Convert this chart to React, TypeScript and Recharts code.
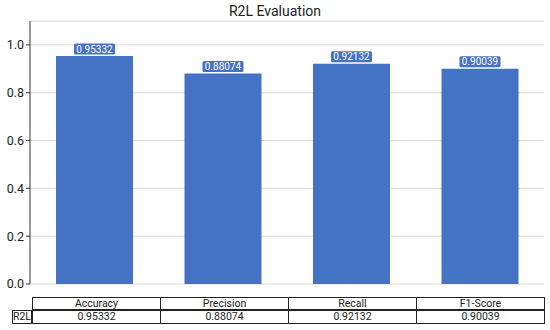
import { BarChart, Bar, XAxis, YAxis, CartesianGrid, LabelList } from 'recharts';

const metrics = ['Accuracy', 'Precision', 'Recall', 'F1-Score'];
const r2lScores = [0.95332, 0.88074, 0.92132, 0.90039];
const yTicks = [0, 0.2, 0.4, 0.6, 0.8, 1.0];
const rowLabel = 'R2L';

const data = metrics.map((m, i) => ({ metric: m, score: r2lScores[i] }));

const FONT = 'Roboto, "Noto Sans", sans-serif';
const BLUE = '#4472c4';

function ValueTag(props: any) {
  const { x, y, width, value } = props;
  const cx = x + width / 2;
  const w = 41;
  const h = 11;
  return (
    <g>
      <rect x={cx - w / 2} y={y - h - 1.5} width={w} height={h} rx={1.5} fill={BLUE} />
      <text
        x={cx}
        y={y - 1.5 - h / 2}
        dy="0.36em"
        textAnchor="middle"
        fill="#ffffff"
        fontSize={10}
        fontFamily={FONT}
      >
        {value.toFixed(5)}
      </text>
    </g>
  );
}

// table under the chart, columns line up with the plot bands
const tableLeft = 32;
const tableRight = 544;
const colW = (tableRight - tableLeft) / metrics.length;

export default function App() {
  const cell = (left: number, top: number, w: number, h: number, text: string, key: string) => (
    <div
      key={key}
      style={{
        position: 'absolute',
        left,
        top,
        width: w,
        height: h,
        boxSizing: 'border-box',
        border: '1px solid #222',
        marginLeft: -1,
        marginTop: -1,
        fontSize: 10.5,
        lineHeight: `${h - 2}px`,
        textAlign: 'center',
        color: '#222',
      }}
    >
      {text}
    </div>
  );

  return (
    <div style={{ position: 'absolute', left: 0, top: 0, width: 550, height: 330, background: '#fff', fontFamily: FONT }}>
      <div
        style={{
          position: 'absolute',
          left: 0,
          top: 3,
          width: 550,
          textAlign: 'center',
          fontSize: 14,
          color: '#222',
        }}
      >
        R2L Evaluation
      </div>
      <BarChart
        width={550}
        height={330}
        data={data}
        margin={{ top: 21, right: 6, bottom: 46, left: 0 }}
        barCategoryGap={0}
      >
        <CartesianGrid horizontal vertical={false} stroke="#d9d9d9" />
        <XAxis
          dataKey="metric"
          height={0}
          tick={false}
          tickLine={false}
          axisLine={{ stroke: '#333' }}
        />
        <YAxis
          width={30}
          domain={[0, 1.1]}
          ticks={yTicks}
          tickFormatter={(v: number) => v.toFixed(1)}
          tick={{ fill: '#222', fontSize: 12.5, fontFamily: FONT }}
          tickSize={4}
          tickMargin={2}
          tickLine={{ stroke: '#333' }}
          axisLine={{ stroke: '#333' }}
        />
        <Bar dataKey="score" fill={BLUE} barSize={77} isAnimationActive={false}>
          <LabelList dataKey="score" content={<ValueTag />} />
        </Bar>
      </BarChart>
      {metrics.map((m, i) => cell(tableLeft + i * colW + 1, 298, colW + 1, 13, m, 'h' + i))}
      {cell(13, 311, tableLeft - 12, 14, rowLabel, 'rl')}
      {r2lScores.map((v, i) => cell(tableLeft + i * colW + 1, 311, colW + 1, 14, v.toFixed(5), 'v' + i))}
    </div>
  );
}
